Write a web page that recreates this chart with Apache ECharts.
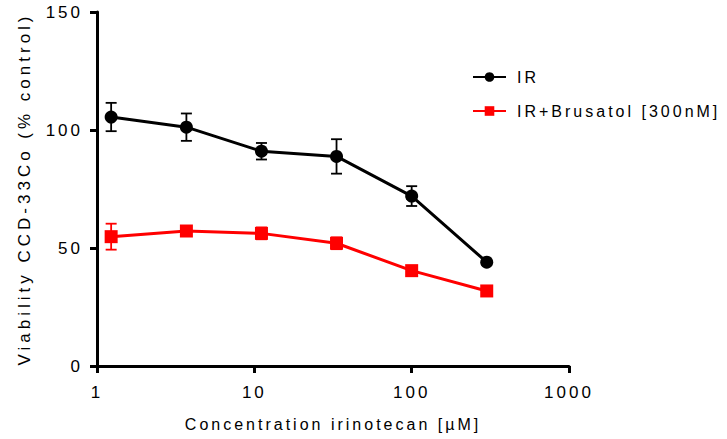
<!DOCTYPE html>
<html><head><meta charset="utf-8">
<script src="https://cdn.jsdelivr.net/npm/echarts@6/dist/echarts.min.js"></script>
<style>html,body{margin:0;padding:0;background:#fff}#c{width:727px;height:439px}
#c svg text{letter-spacing:3px}</style>
</head><body><div id="c"></div>
<script>
const concentrations = [1.23, 3.7, 11.1, 33.3, 100, 300];
const irMean = [105.5, 101.2, 91.0, 88.8, 72.0, 44.0];
const irErr = [6.0, 5.8, 3.5, 7.3, 4.2, 0];
const brMean = [54.8, 57.2, 56.2, 52.0, 40.4, 31.8];
const brErr = [5.5, 1.0, 2.5, 2.5, 1.0, 0];
const yTicks = [0, 50, 100, 150];
const xTicks = [1, 10, 100, 1000];
const seriesNames = ['IR', 'IR+Brusatol [300nM]'];
const xName = 'Concentration irinotecan [µM]';
const yName = 'Viability CCD-33Co (% control)';

const font = 'Arial, "Liberation Sans", sans-serif';
function pts(m){ return concentrations.map((x,i)=>[x,m[i]]); }
function errData(m,e){ return concentrations.map((x,i)=>[x,m[i]-e[i],m[i]+e[i]]); }
function errSeries(m,e,color){
  return {
    type:'custom', silent:true, z:1,
    renderItem:function(params, api){
      const x=api.value(0), lo=api.value(1), hi=api.value(2);
      if(hi-lo<=0) return null;
      const p1=api.coord([x,lo]), p2=api.coord([x,hi]);
      const w=5.5;
      const st={stroke:color,lineWidth:1.8};
      return {type:'group',children:[
        {type:'line',shape:{x1:p1[0],y1:p1[1],x2:p2[0],y2:p2[1]},style:st},
        {type:'line',shape:{x1:p1[0]-w,y1:p1[1],x2:p1[0]+w,y2:p1[1]},style:st},
        {type:'line',shape:{x1:p2[0]-w,y1:p2[1],x2:p2[0]+w,y2:p2[1]},style:st}
      ]};
    },
    data:errData(m,e)
  };
}
const chart = echarts.init(document.getElementById('c'), null, {renderer:'svg'});
chart.setOption({
  animation:false,
  backgroundColor:'#fff',
  grid:{left:97,right:158,top:12,bottom:73},
  legend:{
    orient:'vertical', left:467, top:64, itemWidth:33, itemHeight:12, itemGap:18,
    textStyle:{fontFamily:font,fontSize:16,color:'#000',padding:[0,0,0,6]},
    data:seriesNames
  },
  xAxis:{
    type:'log', logBase:10, min:1, max:1000,
    name:xName, nameLocation:'middle', nameGap:50,
    nameTextStyle:{fontFamily:font,fontSize:16,color:'#000'},
    axisLine:{lineStyle:{color:'#000',width:3}},
    axisTick:{show:true,length:7,lineStyle:{color:'#000',width:3}},
    axisLabel:{fontFamily:font,fontSize:17,color:'#000',margin:18,
      formatter:function(v){return xTicks.indexOf(Math.round(v))>=0?String(Math.round(v)):'';}},
    splitLine:{show:false},
    minorTick:{show:false}
  },
  yAxis:{
    type:'value', min:yTicks[0], max:yTicks[yTicks.length-1], interval:50,
    name:yName, nameLocation:'middle', nameGap:64,
    nameTextStyle:{fontFamily:font,fontSize:17,color:'#000'},
    axisLine:{show:true,lineStyle:{color:'#000',width:3}},
    axisTick:{show:true,length:7,lineStyle:{color:'#000',width:3}},
    axisLabel:{fontFamily:font,fontSize:17,color:'#000',margin:14},
    splitLine:{show:false}
  },
  series:[
    errSeries(irMean,irErr,'#000'),
    errSeries(brMean,brErr,'#ff0000'),
    {name:seriesNames[0],type:'line',data:pts(irMean),symbol:'circle',symbolSize:13,
      itemStyle:{color:'#000'},lineStyle:{color:'#000',width:3},z:3},
    {name:seriesNames[1],type:'line',data:pts(brMean),symbol:'rect',symbolSize:13,
      itemStyle:{color:'#ff0000'},lineStyle:{color:'#ff0000',width:3},z:3}
  ]
});
document.querySelectorAll('#c svg text').forEach(function(t){
  if(t.textContent===yName) t.style.letterSpacing='4px';
});
</script></body></html>
